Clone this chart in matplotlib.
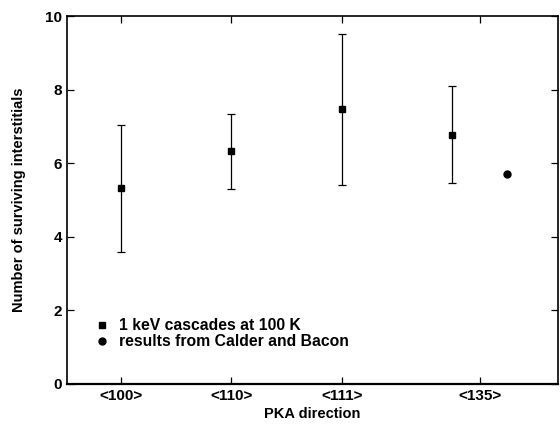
import numpy as np
from matplotlib import pyplot as plt

plt.rcParams['font.family'] = ['Liberation Sans', 'DejaVu Sans']
plt.rcParams['font.weight'] = 'bold'

# PKA directions and tick positions
directions = ["<100>", "<110>", "<111>", "<135>"]
tick_pos = [1, 2, 3, 4.25]

# 1 keV cascades at 100 K
cascade_x = [1, 2, 3, 4]
cascade_y = [5.32, 6.32, 7.47, 6.78]
cascade_lo = [3.59, 5.30, 5.42, 5.47]
cascade_hi = [7.03, 7.33, 9.50, 8.10]

# Calder and Bacon
calder_x = [4.5]
calder_y = [5.72]

fig = plt.figure(figsize=(5.6, 4.26), dpi=100)
ax = fig.add_axes([0.1196, 0.0986, 0.877, 0.8638])

yerr = np.array([np.array(cascade_y) - np.array(cascade_lo),
                 np.array(cascade_hi) - np.array(cascade_y)])
ax.errorbar(cascade_x, cascade_y, yerr=yerr, fmt="none", ecolor="black",
            elinewidth=0.9, capsize=3, capthick=0.9)
ax.plot(cascade_x, cascade_y, "s", color="black", markersize=4.5,
        label="1 keV cascades at 100 K")
ax.plot(calder_x, calder_y, "o", color="black", markersize=5,
        label="results from Calder and Bacon")

ax.set_xlim(0.51, 4.96)
ax.set_ylim(0, 10)
ax.set_xticks(tick_pos)
ax.set_xticklabels(directions)
ax.set_yticks([0, 2, 4, 6, 8, 10])
ax.tick_params(direction="in", top=True, right=True, length=5, width=0.9,
               labelsize=11)
for spine in ax.spines.values():
    spine.set_linewidth(1.2)
ax.spines["bottom"].set_linewidth(1.6)

ax.set_xlabel("PKA direction", fontsize=10.5, fontweight="bold", labelpad=3)
ax.set_ylabel("Number of surviving interstitials", fontsize=10.5,
              fontweight="bold", labelpad=14)

leg = ax.legend(loc="lower left", bbox_to_anchor=(0.056, 0.094), frameon=False,
                fontsize=11.3, handletextpad=0.55, labelspacing=0.08,
                handlelength=1.0, borderpad=0, borderaxespad=0, numpoints=1)
for t in leg.get_texts():
    t.set_fontweight("bold")

fig.savefig("out.png", dpi=100)
